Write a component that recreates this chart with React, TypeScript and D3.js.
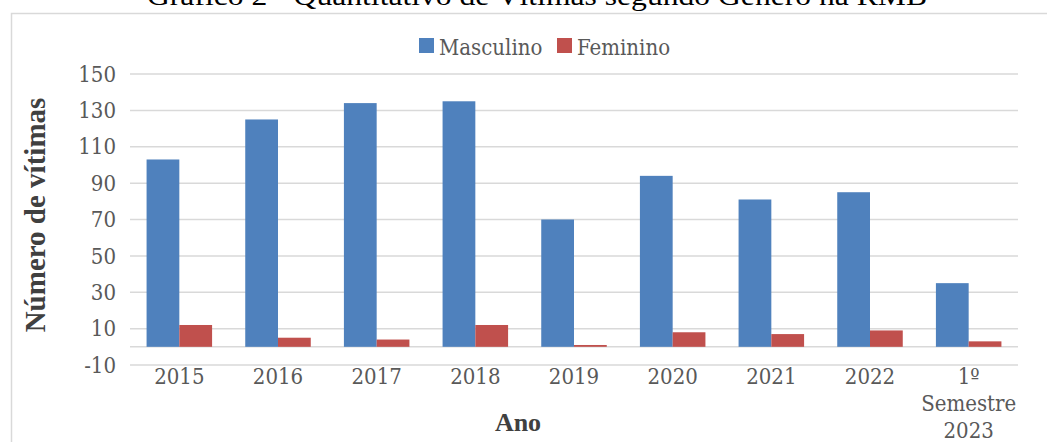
import * as d3 from "d3";
import React from "react";

const categories = ["2015", "2016", "2017", "2018", "2019", "2020", "2021", "2022", "1º Semestre 2023"];
const categoryLines = [["2015"], ["2016"], ["2017"], ["2018"], ["2019"], ["2020"], ["2021"], ["2022"], ["1º", "Semestre", "2023"]];
const seriesNames = ["Masculino", "Feminino"];
const masculino = [103, 125, 134, 135, 70, 94, 81, 85, 35];
const feminino = [12, 5, 4, 12, 1, 8, 7, 9, 3];
const yTicks = [-10, 10, 30, 50, 70, 90, 110, 130, 150];
const colors = ["#4F81BD", "#C0504D"];

const width = 1047;
const height = 442;
const tickFont = '"DejaVu Serif Condensed", "DejaVu Serif", serif';
const titleFont = '"Liberation Serif", "Times New Roman", serif';

const App = () => {
  const x0 = d3.scaleBand().domain(categories).range([130, 1018]).padding(0);
  const bw = x0.bandwidth();
  const x1 = d3
    .scaleBand()
    .domain(seriesNames)
    .range([bw * 0.168, bw * 0.832])
    .padding(0);
  const y = d3.scaleLinear().domain([-10, 150]).range([365, 74]);

  const values = [masculino, feminino];

  return (
    <svg
      width={width}
      height={height}
      style={{ position: "absolute", left: 0, top: 0, background: "#fff" }}
    >
      {/* title, clipped at the top like the source */}
      <text
        x={537}
        y={5}
        textAnchor="middle"
        fontFamily={titleFont}
        fontSize={28}
        textLength={780}
        lengthAdjust="spacingAndGlyphs"
        fill="#000"
      >
        Gráfico 2 - Quantitativo de Vítimas segundo Gênero na RMB
      </text>

      {/* chart area border */}
      <path d={`M11.5,${height}V13.5H${width}`} fill="none" stroke="#d9d9d9" strokeWidth={1.5} />

      {/* legend */}
      <g fontFamily={tickFont} fontSize={22} fill="#595959" style={{ fontStretch: "condensed" }}>
        <rect x={419} y={38} width={15} height={15} fill={colors[0]} />
        <text x={439} y={55}>Masculino</text>
        <rect x={557} y={38} width={15} height={15} fill={colors[1]} />
        <text x={577} y={55}>Feminino</text>
      </g>

      {/* grid */}
      <g stroke="#d9d9d9" strokeWidth={1.5}>
        {yTicks.map((t) => (
          <line key={t} x1={130} x2={1018} y1={y(t)} y2={y(t)} />
        ))}
        <line x1={130} x2={1018} y1={y(0)} y2={y(0)} />
      </g>

      {/* y tick labels */}
      <g fontFamily={tickFont} fontSize={22} fill="#595959" textAnchor="end" style={{ fontStretch: "condensed" }}>
        {yTicks.map((t) => (
          <text key={t} x={116} y={y(t)} dy="0.35em">
            {t}
          </text>
        ))}
      </g>

      {/* bars */}
      {values.map((vals, si) => (
        <g key={seriesNames[si]} fill={colors[si]}>
          {vals.map((v, i) => (
            <rect
              key={i}
              x={(x0(categories[i]) ?? 0) + (x1(seriesNames[si]) ?? 0)}
              y={y(v)}
              width={x1.bandwidth()}
              height={y(0) - y(v)}
            />
          ))}
        </g>
      ))}

      {/* x tick labels */}
      <g fontFamily={tickFont} fontSize={22} fill="#595959" textAnchor="middle" style={{ fontStretch: "condensed" }}>
        {categories.map((c, i) => (
          <text key={c} x={(x0(c) ?? 0) + bw / 2} y={384}>
            {categoryLines[i].map((l, j) => (
              <tspan key={j} x={(x0(c) ?? 0) + bw / 2} dy={j === 0 ? 0 : 27}>
                {l}
              </tspan>
            ))}
          </text>
        ))}
      </g>

      {/* axis titles */}
      <text
        x={518}
        y={431}
        textAnchor="middle"
        fontFamily={titleFont}
        fontWeight="bold"
        fontSize={26}
        fill="#404040"
      >
        Ano
      </text>
      <text
        transform={`translate(45,215) rotate(-90)`}
        textAnchor="middle"
        fontFamily={titleFont}
        fontWeight="bold"
        fontSize={29}
        fill="#404040"
      >
        Número de vítimas
      </text>
    </svg>
  );
};

export default App;
